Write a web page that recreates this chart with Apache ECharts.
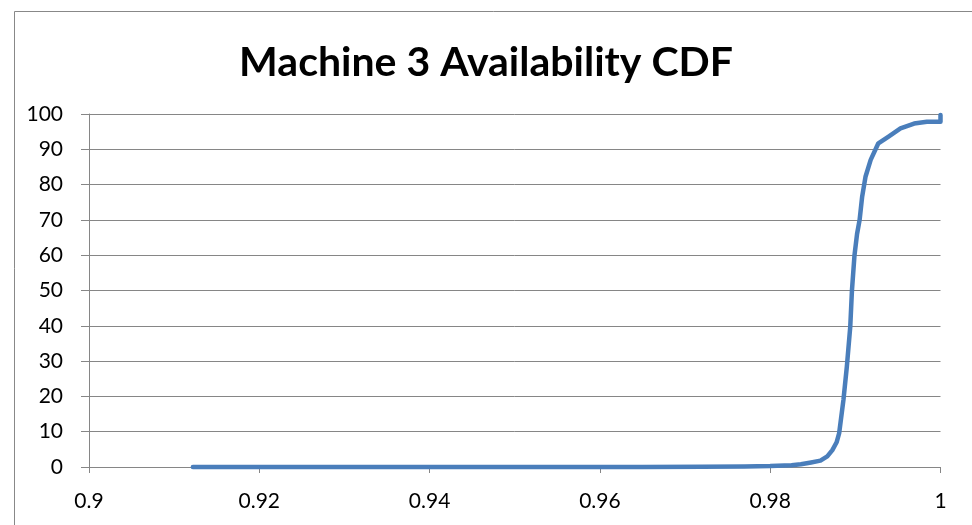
<!DOCTYPE html>
<html>
<head>
<meta charset="utf-8">
<script src="https://cdn.jsdelivr.net/npm/echarts@6/dist/echarts.min.js"></script>
<style>html,body{margin:0;padding:0;background:#fff}#c{width:972px;height:525px}</style>
</head>
<body>
<div id="c"></div>
<script>
const titleText = 'Machine 3 Availability CDF';
const availability = [0.9122, 0.93, 0.95, 0.965, 0.972, 0.977, 0.980, 0.9825, 0.9836, 0.9848, 0.9859, 0.9867, 0.9873, 0.9878, 0.9881, 0.9886, 0.9890, 0.9894, 0.9896, 0.9899, 0.9902, 0.9905, 0.9908, 0.9912, 0.9918, 0.9927, 0.9939, 0.9953, 0.9969, 0.9984, 1.0, 1.0];
const cdfPercent =   [0,      0,    0,    0.02,  0.05,  0.12,  0.25,  0.5,    0.8,    1.3,    1.8,    3.0,    4.8,    7.0,    9.6,    19,     28.4,   39.7,   50,     60,     66,     70,     76.6,   82.3,   87,     91.7,   93.6,   95.9,   97.3,   97.8,   97.8,   99.7];
const xTicks = [0.9, 0.92, 0.94, 0.96, 0.98, 1];
const yTicks = [0, 10, 20, 30, 40, 50, 60, 70, 80, 90, 100];

const chart = echarts.init(document.getElementById('c'), null, {renderer: 'canvas'});
const font = "Lato, 'Open Sans', 'Liberation Sans', sans-serif";
chart.setOption({
  animation: false,
  backgroundColor: '#fff',
  graphic: [{
    type: 'rect', left: 12, top: 9, z: -1,
    shape: {x: 0, y: 0, width: 1000, height: 600},
    style: {fill: 'none', stroke: '#888', lineWidth: 1}
  }],
  title: {
    text: titleText, left: 'center', top: 37,
    textStyle: {fontFamily: font, fontWeight: 'bold', fontSize: 41, color: '#000'}
  },
  grid: {left: 89, right: 31.5, top: 114, bottom: 58},
  xAxis: {
    type: 'value', min: xTicks[0], max: xTicks[xTicks.length - 1], interval: 0.02,
    axisLine: {lineStyle: {color: '#868686', width: 1}},
    axisTick: {show: true, length: 6, lineStyle: {color: '#868686'}},
    splitLine: {show: false},
    axisLabel: {fontFamily: font, fontSize: 21, color: '#000', margin: 24,
      formatter: v => String(parseFloat(v.toFixed(2)))}
  },
  yAxis: {
    type: 'value', min: yTicks[0], max: yTicks[yTicks.length - 1], interval: 10,
    axisLine: {show: true, lineStyle: {color: '#868686', width: 1}},
    axisTick: {show: true, length: 8, lineStyle: {color: '#868686'}},
    splitLine: {show: true, lineStyle: {color: '#868686', width: 1}},
    axisLabel: {fontFamily: font, fontSize: 21, color: '#000', margin: 26}
  },
  series: [{
    type: 'line',
    data: availability.map((x, i) => [x, cdfPercent[i]]),
    showSymbol: false, smooth: false,
    lineStyle: {color: '#4A7EBB', width: 4.5, cap: 'round', join: 'round'},
    clip: false
  }]
});
</script>
</body>
</html>
